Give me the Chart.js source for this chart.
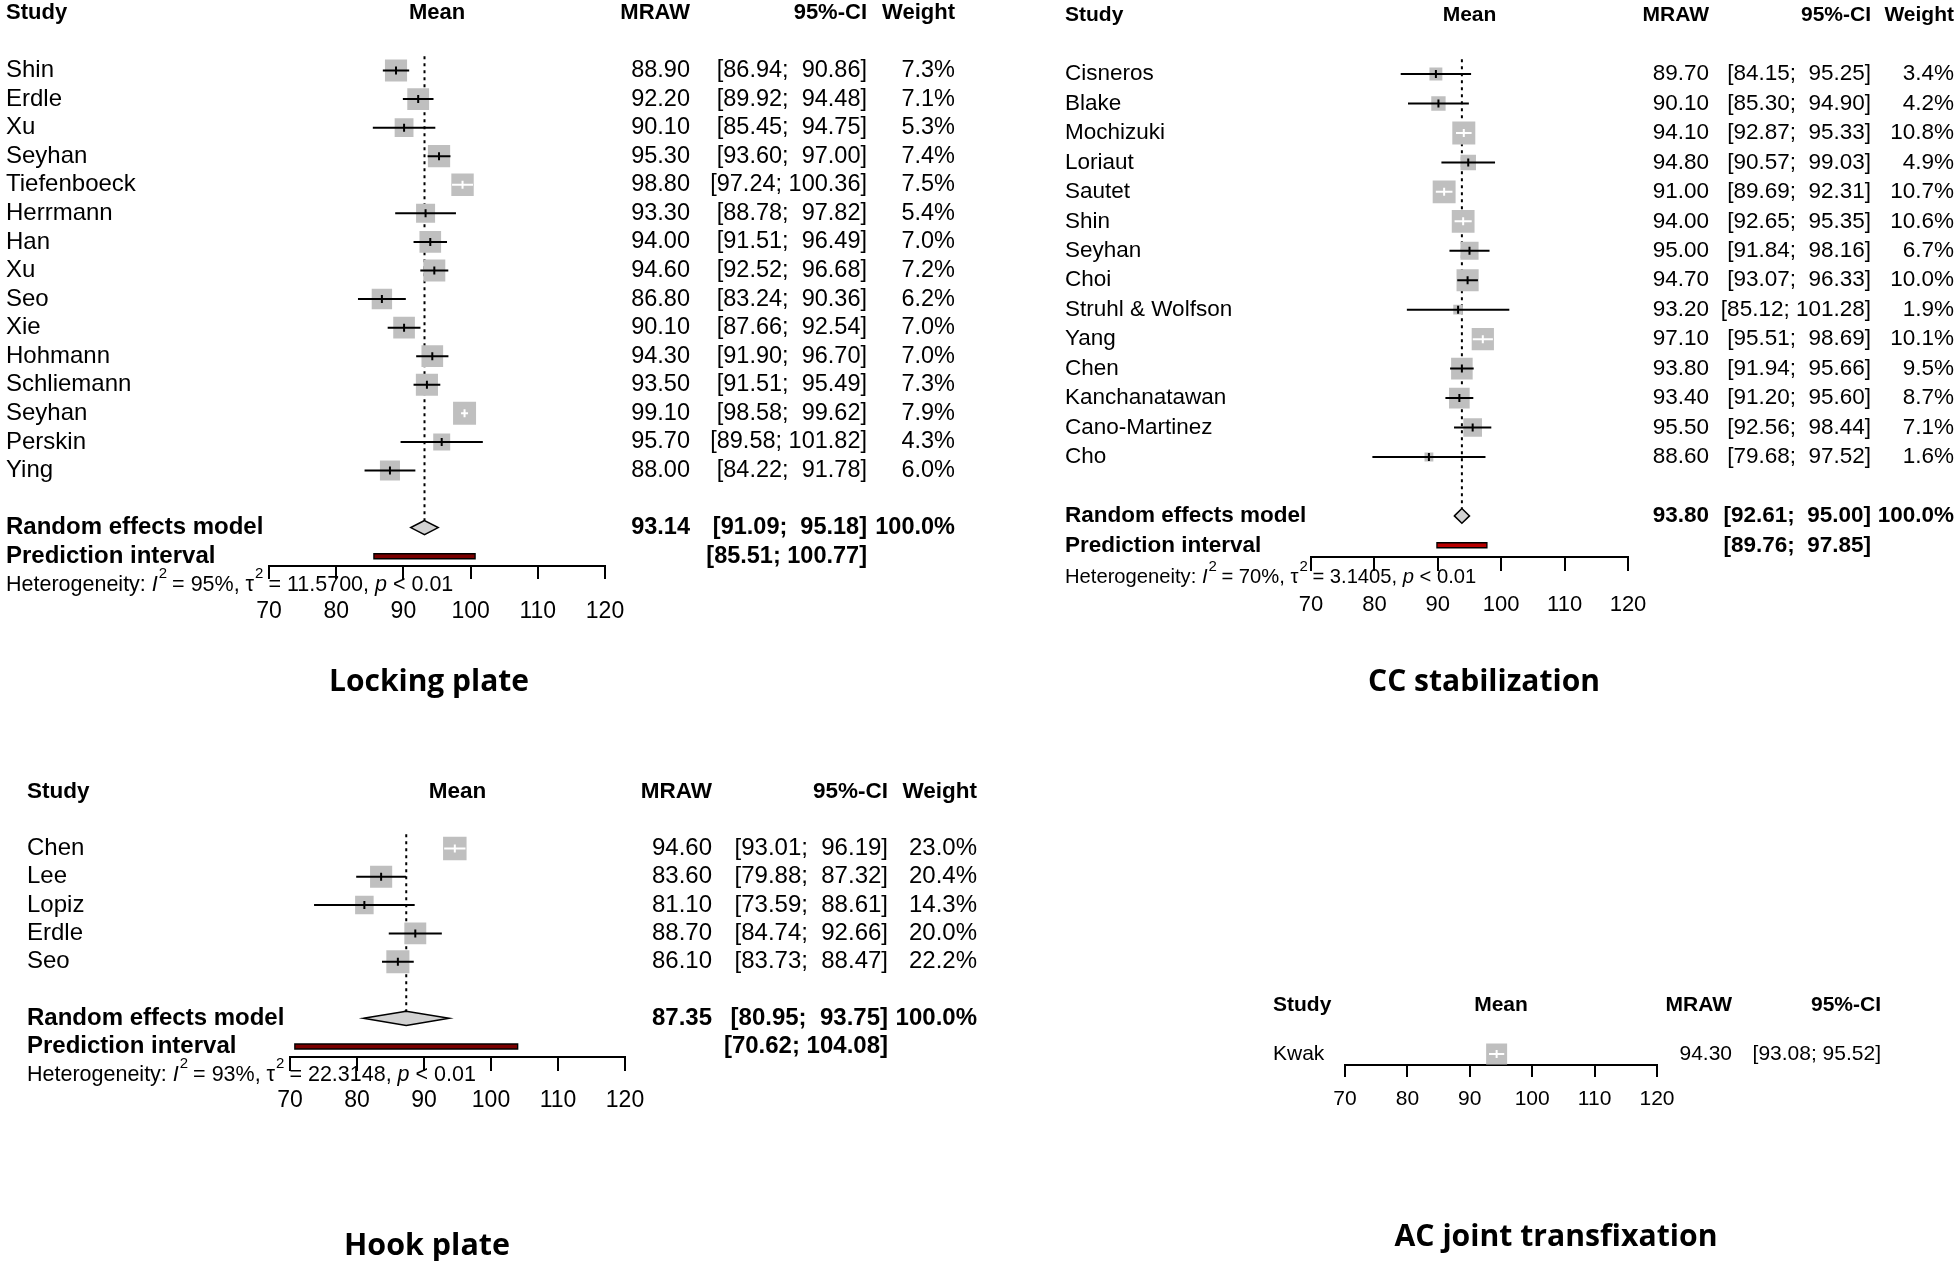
<!DOCTYPE html>
<html>
<head>
<meta charset="utf-8">
<script src="https://cdn.jsdelivr.net/npm/chart.js@4.4.1/dist/chart.umd.min.js"></script>
<style>
  html, body { margin: 0; padding: 0; background: #fff; }
  body { position: relative; width: 1960px; height: 1261px; overflow: hidden; }
  canvas { position: absolute; }
</style>
</head>
<body>
<script>
// ── SHARED AXIS ──
const axisTicks = [70, 80, 90, 100, 110, 120];

// ── LOCKING PLATE ──
const lpStudies = ['Shin', 'Erdle', 'Xu', 'Seyhan', 'Tiefenboeck', 'Herrmann', 'Han', 'Xu', 'Seo', 'Xie', 'Hohmann', 'Schliemann', 'Seyhan', 'Perskin', 'Ying'];
const lpMean    = [88.90, 92.20, 90.10, 95.30, 98.80, 93.30, 94.00, 94.60, 86.80, 90.10, 94.30, 93.50, 99.10, 95.70, 88.00];
const lpLower   = [86.94, 89.92, 85.45, 93.60, 97.24, 88.78, 91.51, 92.52, 83.24, 87.66, 91.90, 91.51, 98.58, 89.58, 84.22];
const lpUpper   = [90.86, 94.48, 94.75, 97.00, 100.36, 97.82, 96.49, 96.68, 90.36, 92.54, 96.70, 95.49, 99.62, 101.82, 91.78];
const lpWeight  = [7.3, 7.1, 5.3, 7.4, 7.5, 5.4, 7.0, 7.2, 6.2, 7.0, 7.0, 7.3, 7.9, 4.3, 6.0];
const lpPooled  = [93.14, 91.09, 95.18];
const lpPredict = [85.51, 100.77];
const lpHet     = [95, 11.5700, 0.01];

// ── CC STABILIZATION ──
const ccStudies = ['Cisneros', 'Blake', 'Mochizuki', 'Loriaut', 'Sautet', 'Shin', 'Seyhan', 'Choi', 'Struhl & Wolfson', 'Yang', 'Chen', 'Kanchanatawan', 'Cano-Martinez', 'Cho'];
const ccMean    = [89.70, 90.10, 94.10, 94.80, 91.00, 94.00, 95.00, 94.70, 93.20, 97.10, 93.80, 93.40, 95.50, 88.60];
const ccLower   = [84.15, 85.30, 92.87, 90.57, 89.69, 92.65, 91.84, 93.07, 85.12, 95.51, 91.94, 91.20, 92.56, 79.68];
const ccUpper   = [95.25, 94.90, 95.33, 99.03, 92.31, 95.35, 98.16, 96.33, 101.28, 98.69, 95.66, 95.60, 98.44, 97.52];
const ccWeight  = [3.4, 4.2, 10.8, 4.9, 10.7, 10.6, 6.7, 10.0, 1.9, 10.1, 9.5, 8.7, 7.1, 1.6];
const ccPooled  = [93.80, 92.61, 95.00];
const ccPredict = [89.76, 97.85];
const ccHet     = [70, 3.1405, 0.01];

// ── HOOK PLATE ──
const hpStudies = ['Chen', 'Lee', 'Lopiz', 'Erdle', 'Seo'];
const hpMean    = [94.60, 83.60, 81.10, 88.70, 86.10];
const hpLower   = [93.01, 79.88, 73.59, 84.74, 83.73];
const hpUpper   = [96.19, 87.32, 88.61, 92.66, 88.47];
const hpWeight  = [23.0, 20.4, 14.3, 20.0, 22.2];
const hpPooled  = [87.35, 80.95, 93.75];
const hpPredict = [70.62, 104.08];
const hpHet     = [93, 22.3148, 0.01];

// ── AC JOINT TRANSFIXATION ──
const acStudies = ['Kwak'];
const acMean    = [94.30];
const acLower   = [93.08];
const acUpper   = [95.52];

const FONT = "'Liberation Sans', Arial, Helvetica, sans-serif";
const CAPTION_FONT = "bold 30px 'Open Sans', 'DejaVu Sans', sans-serif";
const BOX_GREY = '#bfbfbf';
const DIAMOND_GREY = '#d2d2d2';
const INSIDE_SPAN = 3.2;   // CIs narrower than this sit inside their box and are drawn white

function ciText(lo, hi, w) {
  return '[' + lo.toFixed(2) + '; ' + hi.toFixed(2).padStart(w) + ']';
}

// ── ONE FOREST PANEL ──
function forest(p) {
  const [L, T, W, H] = p.box;
  const cv = document.createElement('canvas');
  cv.width = W; cv.height = H;
  cv.style.left = L + 'px'; cv.style.top = T + 'px';
  document.body.appendChild(cv);

  const n = p.studies.length;
  const poolRow = n + 1, predRow = n + 2;
  const maxW = p.weight ? Math.max(...p.weight) : 1;
  const inside = p.mean.map((_, i) => p.upper[i] - p.lower[i] < INSIDE_SPAN);
  const side = p.mean.map((_, i) => p.maxBox * Math.sqrt((p.weight ? p.weight[i] : 1) / maxW));
  const centres = p.mean.map((m, i) => ({ x: m, y: i }));

  const ciPts = [];
  p.mean.forEach((_, i) => {
    ciPts.push({ x: p.lower[i], y: i }, { x: p.upper[i], y: i }, { x: null, y: null });
  });

  const datasets = [
    { type: 'scatter', order: 8, data: centres, pointStyle: 'rect',
      pointRadius: side.map(s => s / Math.SQRT2), pointBackgroundColor: BOX_GREY, pointBorderWidth: 0 },
    { type: 'line', order: 6, data: ciPts, pointRadius: 0, borderWidth: 2, borderColor: '#000',
      segment: { borderColor: c => inside[Math.floor(c.p0DataIndex / 3)] ? '#fff' : '#000' } },
    { type: 'scatter', order: 5, data: centres, pointStyle: 'line', pointRotation: 90, pointRadius: 4,
      pointBorderWidth: 2, pointBorderColor: inside.map(f => f ? '#fff' : '#000') }
  ];

  if (p.pooled) {
    const [pm, plo, phi] = p.pooled;
    const [qlo, qhi] = p.predict;
    datasets.push(
      { type: 'line', order: 9, data: [{ x: pm, y: -0.5 }, { x: pm, y: poolRow - 0.25 }],
        borderDash: [3, 4], borderWidth: 2, borderColor: '#000', pointRadius: 0 },
      { type: 'line', order: 7, pointRadius: 0, fill: 'shape', backgroundColor: DIAMOND_GREY,
        borderColor: '#000', borderWidth: 1.5,
        data: [{ x: plo, y: poolRow }, { x: pm, y: poolRow - 0.25 }, { x: phi, y: poolRow },
               { x: pm, y: poolRow + 0.25 }, { x: plo, y: poolRow }, { x: pm, y: poolRow - 0.25 }] },
      { type: 'line', order: 4, data: [{ x: qlo, y: predRow }, { x: qhi, y: predRow }],
        borderWidth: 6.5, borderColor: '#000', pointRadius: 0 },
      { type: 'line', order: 3, data: [{ x: qlo + 0.2, y: predRow }, { x: qhi - 0.2, y: predRow }],
        borderWidth: 3.5, borderColor: p.predColor, pointRadius: 0 }
    );
  }

  // upper bound text width shared by the whole CI column
  let upW = Math.max(...p.upper.map(v => v.toFixed(2).length));
  if (p.pooled) upW = Math.max(upW, p.pooled[2].toFixed(2).length, p.predict[1].toFixed(2).length);

  const textLayer = {
    id: 'text_' + p.key,
    afterDraw(chart) {
      const ctx = chart.ctx, xs = chart.scales.x, ys = chart.scales.y;
      const X = v => v - L;
      const rowY = r => ys.getPixelForValue(r);
      const put = (s, x, y, size, align, bold) => {
        ctx.font = (bold ? 'bold ' : '') + size + 'px ' + FONT;
        ctx.textAlign = align;
        ctx.fillText(s, x, y);
      };
      ctx.save();
      ctx.fillStyle = '#000';
      ctx.textBaseline = 'middle';

      // headers
      const hy = rowY(-2);
      put('Study', X(p.cols.name), hy, p.font.head, 'left', true);
      put('Mean', (xs.left + xs.right) / 2, hy, p.font.head, 'center', true);
      put('MRAW', X(p.cols.mraw), hy, p.font.head, 'right', true);
      put('95%-CI', X(p.cols.ci), hy, p.font.head, 'right', true);
      if (p.weight) put('Weight', X(p.cols.wt), hy, p.font.head, 'right', true);

      // study rows
      p.studies.forEach((s, i) => {
        const y = rowY(i);
        put(s, X(p.cols.name), y, p.font.name, 'left');
        put(p.mean[i].toFixed(2), X(p.cols.mraw), y, p.font.num, 'right');
        put(ciText(p.lower[i], p.upper[i], upW), X(p.cols.ci), y, p.font.num, 'right');
        if (p.weight) put(p.weight[i].toFixed(1) + '%', X(p.cols.wt), y, p.font.num, 'right');
      });

      if (p.pooled) {
        const y1 = rowY(poolRow), y2 = rowY(predRow);
        put('Random effects model', X(p.cols.name), y1, p.font.name, 'left', true);
        put(p.pooled[0].toFixed(2), X(p.cols.mraw), y1, p.font.num, 'right', true);
        put(ciText(p.pooled[1], p.pooled[2], upW), X(p.cols.ci), y1, p.font.num, 'right', true);
        put('100.0%', X(p.cols.wt), y1, p.font.num, 'right', true);
        put('Prediction interval', X(p.cols.name), y2, p.font.name, 'left', true);
        put(ciText(p.predict[0], p.predict[1], upW), X(p.cols.ci), y2, p.font.num, 'right', true);

        // heterogeneity line
        const s = p.font.het;
        let x = X(p.cols.name);
        const y = p.hetY - T;
        const pieces = [
          ['Heterogeneity: ', ''], ['I', 'italic '], ['2', 'sup'],
          [' = ' + p.het[0] + '%, ', ''], ['\u03c4', ''], ['2', 'sup'],
          [' = ' + p.het[1].toFixed(4) + ', ', ''], ['p', 'italic '], [' < ' + p.het[2], '']
        ];
        ctx.textAlign = 'left';
        for (const [t, st] of pieces) {
          if (st === 'sup') {
            ctx.font = Math.round(s * 0.72) + 'px ' + FONT;
            ctx.fillText(t, x + 1, y - s * 0.52);
          } else {
            ctx.font = st + s + 'px ' + FONT;
            ctx.fillText(t, x, y);
          }
          x += ctx.measureText(t).width;
        }
      }

      // tick labels
      xs.ticks.forEach(t => put(String(t.value), xs.getPixelForValue(t.value), p.tickY - T, p.font.tick, 'center'));

      // caption
      const c = p.caption;
      ctx.font = CAPTION_FONT;
      const mw = ctx.measureText(c.text).width;
      ctx.save();
      ctx.translate(c.cx - L, c.base - T);
      ctx.scale(c.width / mw, 1);
      ctx.textAlign = 'center';
      ctx.textBaseline = 'alphabetic';
      ctx.fillText(c.text, 0, 0);
      ctx.restore();

      ctx.restore();
    }
  };

  const scaleH = 20;
  const chart = new Chart(cv, {
    type: 'scatter',
    data: { datasets },
    options: {
      responsive: false,
      animation: false,
      events: [],
      layout: { padding: { left: p.x70 - L, right: L + W - p.x120, top: 0, bottom: H - (p.axisY - T) - scaleH } },
      plugins: { legend: { display: false }, tooltip: { enabled: false } },
      scales: {
        x: {
          type: 'linear', min: 70, max: 120,
          afterBuildTicks: sc => { sc.ticks = axisTicks.map(v => ({ value: v })); },
          afterFit: sc => { sc.height = scaleH; },
          ticks: { display: false },
          grid: { drawOnChartArea: false, drawTicks: true, tickLength: p.tickLen, color: '#000', lineWidth: 2 },
          border: { display: true, color: '#000', width: 2 }
        },
        y: { type: 'linear', reverse: true, display: false, min: -3, max: n + 3 }
      }
    },
    plugins: [textLayer]
  });

  // pin row positions to the page: row r sits at row0 + r * rowH
  const ca = chart.chartArea;
  chart.options.scales.y.min = (ca.top + T - p.row0) / p.rowH;
  chart.options.scales.y.max = (ca.bottom + T - p.row0) / p.rowH;
  chart.update();
}

forest({
  key: 'lp', box: [0, 0, 980, 720],
  studies: lpStudies, mean: lpMean, lower: lpLower, upper: lpUpper, weight: lpWeight,
  pooled: lpPooled, predict: lpPredict, het: lpHet, predColor: '#7a0000',
  x70: 269, x120: 605, row0: 70.5, rowH: 28.57, axisY: 566, tickLen: 13, tickY: 612, hetY: 585,
  cols: { name: 6, mraw: 690, ci: 867, wt: 955 },
  font: { name: 24, num: 23.5, head: 22, het: 21.5, tick: 23 },
  maxBox: 23,
  caption: { text: 'Locking plate', cx: 429, base: 691, width: 200 }
});

forest({
  key: 'cc', box: [1040, 0, 920, 720],
  studies: ccStudies, mean: ccMean, lower: ccLower, upper: ccUpper, weight: ccWeight,
  pooled: ccPooled, predict: ccPredict, het: ccHet, predColor: '#b80000',
  x70: 1311, x120: 1628, row0: 74, rowH: 29.46, axisY: 557, tickLen: 14, tickY: 605, hetY: 577,
  cols: { name: 1065, mraw: 1709, ci: 1871, wt: 1954 },
  font: { name: 22.5, num: 22.5, head: 21, het: 20.2, tick: 22 },
  maxBox: 23,
  caption: { text: 'CC stabilization', cx: 1484, base: 691, width: 232 }
});

forest({
  key: 'hp', box: [0, 760, 1000, 501],
  studies: hpStudies, mean: hpMean, lower: hpLower, upper: hpUpper, weight: hpWeight,
  pooled: hpPooled, predict: hpPredict, het: hpHet, predColor: '#7a0000',
  x70: 290, x120: 625, row0: 848.5, rowH: 28.3, axisY: 1057, tickLen: 14, tickY: 1101, hetY: 1075,
  cols: { name: 27, mraw: 712, ci: 888, wt: 977 },
  font: { name: 24, num: 24, head: 22.5, het: 21.5, tick: 23 },
  maxBox: 23.5,
  caption: { text: 'Hook plate', cx: 427, base: 1255, width: 166 }
});

forest({
  key: 'ac', box: [1240, 975, 720, 286],
  studies: acStudies, mean: acMean, lower: acLower, upper: acUpper,
  x70: 1345, x120: 1657, row0: 1054, rowH: 24.5, axisY: 1065, tickLen: 12, tickY: 1099,
  cols: { name: 1273, mraw: 1732, ci: 1881 },
  font: { name: 21, num: 21, head: 21, tick: 21 },
  maxBox: 21,
  caption: { text: 'AC joint transfixation', cx: 1556, base: 1246, width: 323 }
});
</script>
</body>
</html>
